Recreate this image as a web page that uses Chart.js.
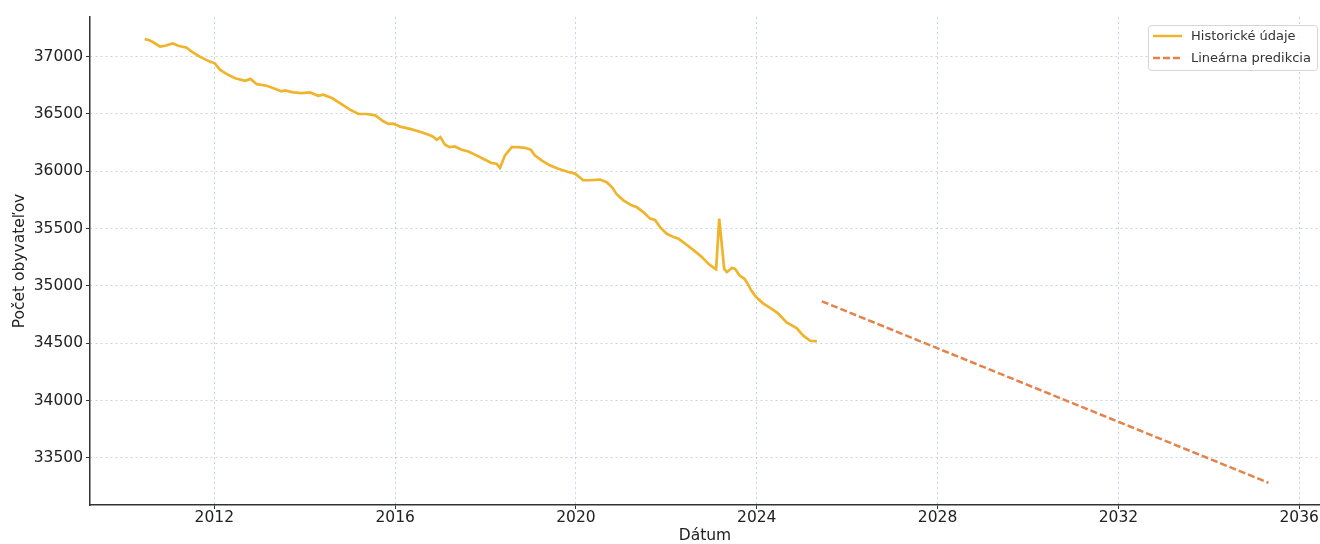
<!DOCTYPE html>
<html>
<head>
<meta charset="utf-8">
<script src="https://cdn.jsdelivr.net/npm/chart.js@4.4.1/dist/chart.umd.min.js"></script>
<style>
  body { margin: 0; background: #fff; }
  #wrap { width: 1320px; height: 544px; position: relative; }
</style>
</head>
<body>
<div id="wrap"><canvas id="lineChart"></canvas></div>
<script>
// historicke udaje (rok ako desatinne cislo)
var histYears = [
    2010.46, 2010.55, 2010.63, 2010.80, 2010.91, 2011.08, 2011.20, 2011.39, 2011.50, 2011.68,
    2011.90, 2012.01, 2012.13, 2012.27, 2012.46, 2012.68, 2012.80, 2012.94, 2013.16, 2013.34,
    2013.49, 2013.56, 2013.75, 2013.93, 2014.12, 2014.30, 2014.41, 2014.60, 2014.78, 2015.00,
    2015.19, 2015.37, 2015.56, 2015.74, 2015.85, 2015.96, 2016.11, 2016.33, 2016.55, 2016.74,
    2016.85, 2016.92, 2017.00, 2017.10, 2017.20, 2017.32, 2017.47, 2017.62, 2017.80, 2017.99,
    2018.13, 2018.24, 2018.32, 2018.43, 2018.58, 2018.72, 2018.87, 2019.00, 2019.09, 2019.24,
    2019.42, 2019.61, 2019.83, 2019.98, 2020.16, 2020.31, 2020.53, 2020.68, 2020.80, 2020.90,
    2021.05, 2021.23, 2021.34, 2021.49, 2021.64, 2021.75, 2021.86, 2022.01, 2022.16, 2022.27,
    2022.42, 2022.60, 2022.79, 2022.93, 2023.08, 2023.10, 2023.17, 2023.28, 2023.34, 2023.45,
    2023.52, 2023.62, 2023.73, 2023.80, 2023.88, 2023.99, 2024.14, 2024.33, 2024.47, 2024.66,
    2024.88, 2025.03, 2025.18, 2025.33
];
var histValues = [
    37153, 37145, 37130, 37088, 37095, 37116, 37095, 37078, 37043, 37000,
    36957, 36942, 36884, 36850, 36812, 36789, 36806, 36760, 36746, 36720,
    36697, 36705, 36688, 36682, 36688, 36659, 36668, 36639, 36595, 36538,
    36500, 36500, 36488, 36436, 36413, 36416, 36390, 36370, 36345, 36318,
    36300, 36275, 36298, 36234, 36211, 36217, 36188, 36173, 36139, 36101,
    36072, 36066, 36029, 36139, 36211, 36211, 36205, 36188, 36139, 36095,
    36052, 36023, 35994, 35980, 35922, 35922, 35928, 35905, 35860, 35800,
    35747, 35703, 35688, 35644, 35587, 35575, 35513, 35455, 35426, 35411,
    35368, 35312, 35251, 35193, 35149, 35145, 35587, 35149, 35120, 35158,
    35149, 35091, 35062, 35018, 34959, 34901, 34848, 34799, 34761, 34682,
    34633, 34566, 34522, 34516
];

// linearna predikcia
var predYears = [2025.44, 2035.32];
var predValues = [34866, 33283];

var xTicks = [2012, 2016, 2020, 2024, 2028, 2032, 2036];
var yTicks = [33500, 34000, 34500, 35000, 35500, 36000, 36500, 37000];

var legendLabels = ['Historické údaje', 'Lineárna predikcia'];

var histColor = '#f0b42c';
var predColor = '#e4824b';
var font = 'DejaVu Sans';

function toPoints(xs, ys) {
    var pts = [];
    for (var i = 0; i < xs.length; i++) {
        pts.push({ x: xs[i], y: ys[i] });
    }
    return pts;
}

// legenda vnutri grafu, vpravo hore
var insideLegend = {
    id: 'insideLegend',
    afterDraw: function(chart) {
        var ctx = chart.ctx;
        var a = chart.chartArea;
        var w = 169, h = 45;
        var x = a.right - 3 - w;
        var y = a.top + 8;
        ctx.save();
        ctx.fillStyle = 'rgba(255,255,255,0.85)';
        ctx.strokeStyle = '#d6d6d6';
        ctx.lineWidth = 1;
        ctx.beginPath();
        ctx.roundRect(x + 0.5, y + 0.5, w, h, 3);
        ctx.fill();
        ctx.stroke();

        var styles = [
            { color: histColor, dash: [] },
            { color: predColor, dash: [7, 3] }
        ];
        ctx.font = '13px "' + font + '"';
        ctx.textBaseline = 'middle';
        for (var i = 0; i < legendLabels.length; i++) {
            var ly = y + 11 + i * 22;
            ctx.strokeStyle = styles[i].color;
            ctx.lineWidth = 2.5;
            ctx.setLineDash(styles[i].dash);
            ctx.beginPath();
            ctx.moveTo(x + 5, ly);
            ctx.lineTo(x + 34, ly);
            ctx.stroke();
            ctx.setLineDash([]);
            ctx.fillStyle = '#333';
            ctx.fillText(legendLabels[i], x + 43, ly + 1);
        }
        ctx.restore();
    }
};

var ctx = document.getElementById('lineChart');
var chart = new Chart(ctx, {
    type: 'line',
    data: {
        datasets: [{
            label: legendLabels[0],
            data: toPoints(histYears, histValues),
            borderColor: histColor,
            borderWidth: 2.7,
            pointRadius: 0,
            tension: 0
        }, {
            label: legendLabels[1],
            data: toPoints(predYears, predValues),
            borderColor: predColor,
            borderWidth: 2.5,
            borderDash: [7, 3],
            pointRadius: 0,
            tension: 0
        }]
    },
    options: {
        responsive: true,
        maintainAspectRatio: false,
        animation: false,
        layout: { padding: { top: 17, left: 0, right: 0, bottom: 0 } },
        plugins: {
            legend: { display: false },
            tooltip: { enabled: false }
        },
        scales: {
            x: {
                type: 'linear',
                min: 2009.25,
                max: 2036.46,
                afterBuildTicks: function(scale) {
                    scale.ticks = xTicks.map(function(v) { return { value: v }; });
                },
                afterFit: function(scale) {
                    scale.height = 39;
                    scale.paddingLeft = 0;
                    scale.paddingRight = 0;
                },
                ticks: {
                    color: '#222',
                    padding: 0,
                    maxRotation: 0,
                    font: { family: font, size: 15.5 },
                    callback: function(v) { return String(v); }
                },
                grid: {
                    color: 'rgba(150,180,210,0.55)',
                    lineWidth: 1,
                    tickLength: 4,
                    tickColor: '#333',
                    tickWidth: 1
                },
                border: { display: true, color: '#333', width: 1.5, dash: [2, 3] },
                title: {
                    display: true,
                    text: 'Dátum',
                    color: '#222',
                    padding: 0,
                    font: { family: font, size: 15.5, lineHeight: 1 }
                }
            },
            y: {
                min: 33089,
                max: 37346,
                afterBuildTicks: function(scale) {
                    scale.ticks = yTicks.map(function(v) { return { value: v }; });
                },
                afterFit: function(scale) {
                    scale.width = 90;
                    scale.paddingTop = 0;
                    scale.paddingBottom = 0;
                },
                ticks: {
                    color: '#222',
                    padding: 3,
                    font: { family: font, size: 15.5 },
                    callback: function(v) { return String(v); }
                },
                grid: {
                    color: 'rgba(150,180,210,0.55)',
                    lineWidth: 1,
                    tickLength: 4,
                    tickColor: '#333',
                    tickWidth: 1
                },
                border: { display: true, color: '#333', width: 1.5, dash: [2, 3] },
                title: {
                    display: true,
                    text: 'Počet obyvateľov',
                    color: '#222',
                    padding: { top: 12, bottom: 0 },
                    font: { family: font, size: 15.5, lineHeight: 1 }
                }
            }
        }
    },
    plugins: [insideLegend]
});
</script>
</body>
</html>
